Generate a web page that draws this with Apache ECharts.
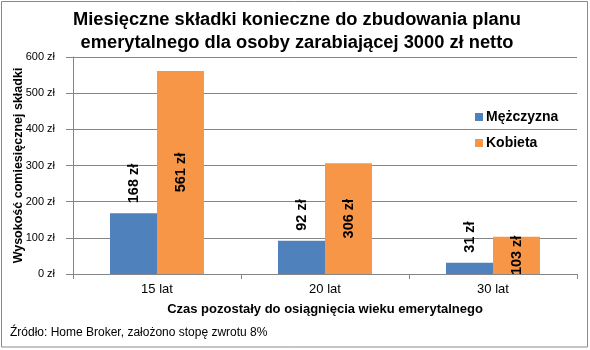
<!DOCTYPE html>
<html>
<head>
<meta charset="utf-8">
<script src="https://cdn.jsdelivr.net/npm/echarts@6/dist/echarts.min.js"></script>
<style>
  html, body { margin: 0; padding: 0; background: #fff; }
  #chart { width: 590px; height: 350px; }
</style>
</head>
<body>
<div id="chart"></div>
<script>
const categories = ['15 lat', '20 lat', '30 lat'];
const menValues = [168, 92, 31];
const womenValues = [561, 306, 103];
const seriesNames = ['Mężczyzna', 'Kobieta'];
const titleLines = ['Miesięczne składki konieczne do zbudowania planu', 'emerytalnego dla osoby zarabiającej 3000 zł netto'];
const yAxisTitle = 'Wysokość comiesięcznej składki';
const xAxisTitle = 'Czas pozostały do osiągnięcia wieku emerytalnego';
const sourceNote = 'Źródło: Home Broker, założono stopę zwrotu 8%';

const font = 'Arial, "Liberation Sans", sans-serif';
const chart = echarts.init(document.getElementById('chart'), null, { renderer: 'canvas' });

chart.setOption({
  animation: false,
  backgroundColor: '#ffffff',
  textStyle: { fontFamily: font },
  title: {
    text: titleLines.join('\n'),
    left: 297,
    textAlign: 'center',
    top: 8,
    padding: 0,
    textStyle: { fontFamily: font, fontSize: 18.3, fontWeight: 'bold', color: '#000', lineHeight: 23 }
  },
  legend: {
    orient: 'vertical',
    left: 475,
    top: 110,
    padding: 0,
    itemWidth: 8,
    itemHeight: 8,
    itemGap: 12,
    icon: 'rect',
    textStyle: { fontFamily: font, fontSize: 14, fontWeight: 'bold', color: '#000', padding: [0, 0, 0, -2] },
    data: seriesNames
  },
  grid: { left: 73, right: 13, top: 57, bottom: 76, containLabel: false, outerBoundsMode: 'none' },
  xAxis: {
    type: 'category',
    data: categories,
    name: xAxisTitle,
    nameLocation: 'middle',
    nameGap: 29,
    nameMoveOverlap: false,
    nameTextStyle: { fontFamily: font, fontSize: 13, fontWeight: 'bold', color: '#000' },
    axisLine: { lineStyle: { color: '#868686', width: 1 } },
    axisTick: { show: true, length: 5, inside: false, lineStyle: { color: '#868686' } },
    axisLabel: { fontFamily: font, fontSize: 13, color: '#000', margin: 9 }
  },
  yAxis: {
    type: 'value',
    min: 0,
    max: 600,
    interval: 100,
    name: yAxisTitle,
    nameLocation: 'middle',
    nameGap: 48,
    nameMoveOverlap: false,
    nameTextStyle: { fontFamily: font, fontSize: 12.5, fontWeight: 'bold', color: '#000' },
    axisLine: { show: true, lineStyle: { color: '#868686', width: 1 } },
    axisTick: { show: true, length: 7, lineStyle: { color: '#868686' } },
    axisLabel: { fontFamily: font, fontSize: 11, color: '#000', margin: 18, formatter: v => v + ' zł' },
    splitLine: { show: true, lineStyle: { color: '#868686', width: 1 } }
  },
  series: [
    {
      name: seriesNames[0],
      type: 'bar',
      data: menValues,
      barWidth: 47,
      barGap: '0%',
      itemStyle: { color: '#4F81BD' },
      label: {
        show: true,
        position: 'top',
        rotate: 90,
        align: 'left',
        verticalAlign: 'middle',
        distance: 10,
        formatter: p => p.value + ' zł',
        fontFamily: font, fontSize: 14.5, fontWeight: 'bold', color: '#000'
      }
    },
    {
      name: seriesNames[1],
      type: 'bar',
      data: womenValues,
      barWidth: 47,
      barGap: '0%',
      itemStyle: { color: '#F79646' },
      label: {
        show: true,
        position: 'inside',
        rotate: 90,
        formatter: p => p.value + ' zł',
        fontFamily: font, fontSize: 14.5, fontWeight: 'bold', color: '#000'
      }
    }
  ],
  graphic: [
    {
      type: 'rect',
      shape: { x: 1.5, y: 1.5, width: 586, height: 345.5 },
      style: { fill: 'none', stroke: '#8a8a8a', lineWidth: 1 },
      silent: true
    },
    {
      type: 'text',
      left: 10,
      top: 327,
      style: { text: sourceNote, font: '12px ' + font, fill: '#000' }
    }
  ]
});
</script>
</body>
</html>
